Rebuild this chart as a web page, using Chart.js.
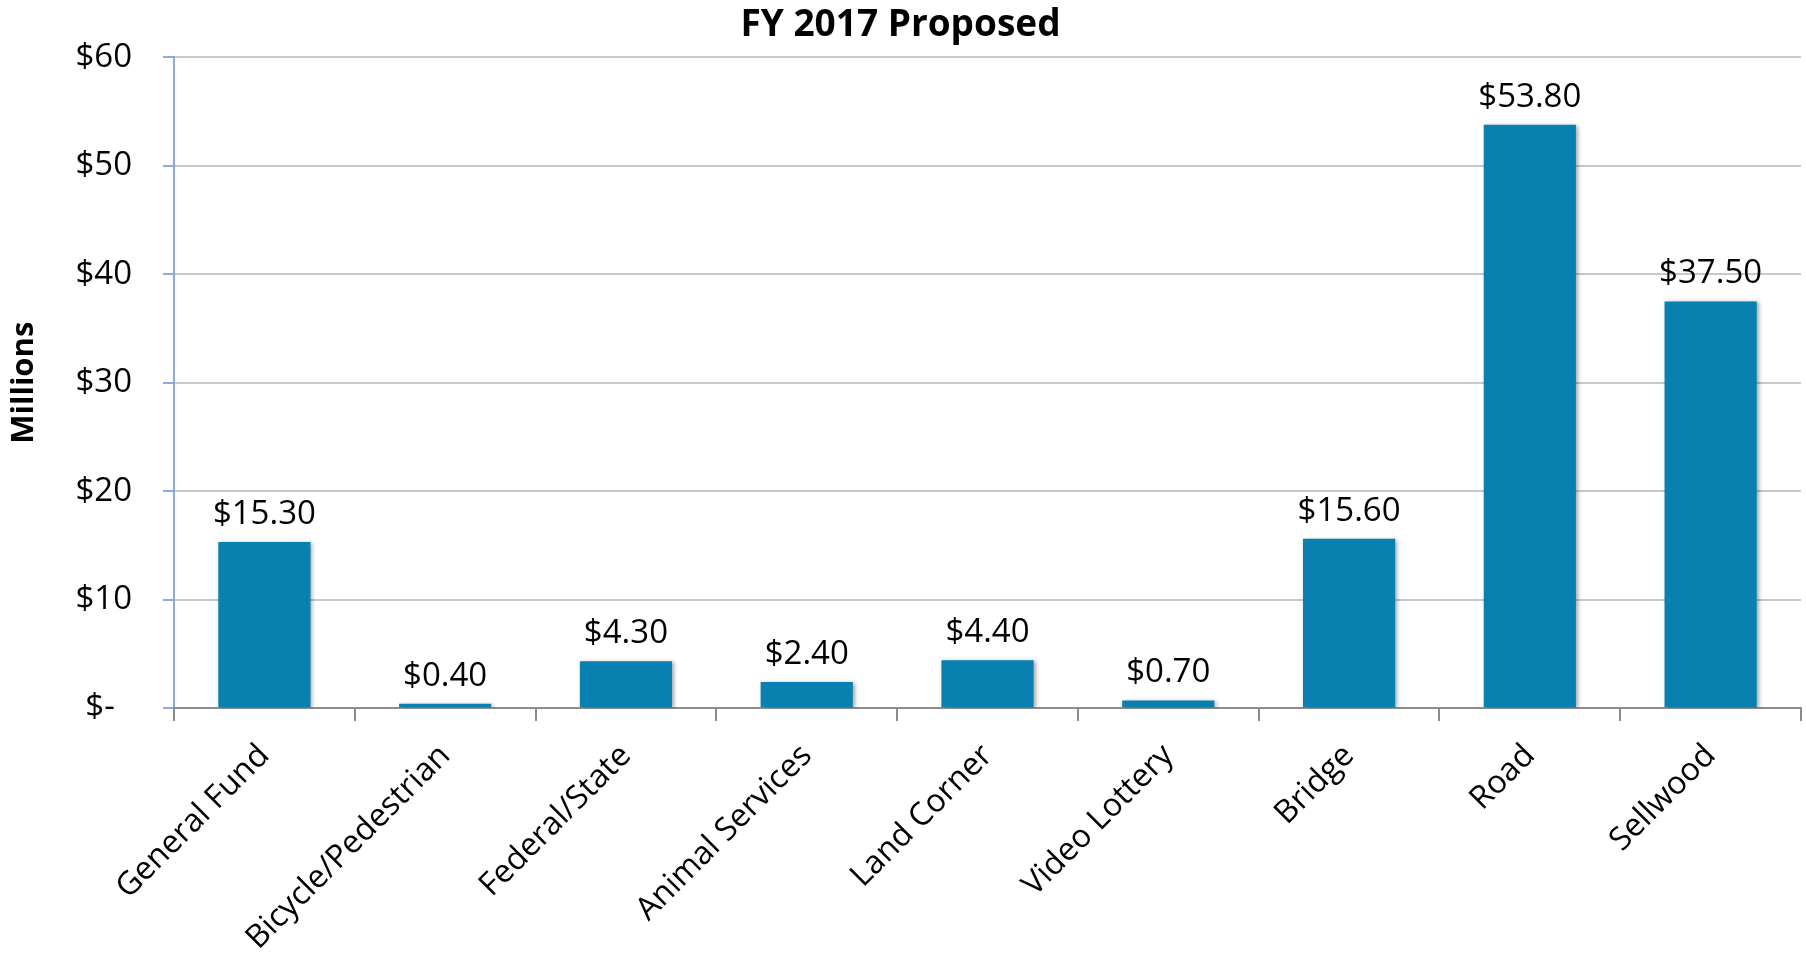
<!DOCTYPE html>
<html>
<head>
<meta charset="utf-8">
<script src="https://cdn.jsdelivr.net/npm/chart.js@4.4.0/dist/chart.umd.min.js"></script>
<style>
  html, body { margin: 0; padding: 0; background: #fff; }
  #wrap { width: 1806px; height: 953px; }
</style>
</head>
<body>
<div id="wrap"><canvas id="fundChart" width="1806" height="953"></canvas></div>
<script>
const categories = ['General Fund', 'Bicycle/Pedestrian', 'Federal/State', 'Animal Services',
    'Land Corner', 'Video Lottery', 'Bridge', 'Road', 'Sellwood'];
const proposed = [15.3, 0.4, 4.3, 2.4, 4.4, 0.7, 15.6, 53.8, 37.5];
const yTicks = [0, 10, 20, 30, 40, 50, 60];

const FONT = "'Open Sans', 'DejaVu Sans', sans-serif";

// soft shadow behind bars, like the original
const barShadow = {
    id: 'barShadow',
    beforeDatasetDraw(chart) {
        const ctx = chart.ctx;
        ctx.save();
        ctx.shadowColor = 'rgba(0, 0, 0, 0.35)';
        ctx.shadowBlur = 4;
        ctx.shadowOffsetX = 2;
        ctx.shadowOffsetY = 1;
    },
    afterDatasetDraw(chart) {
        chart.ctx.restore();
    }
};

// value labels above each bar
const valueLabels = {
    id: 'valueLabels',
    afterDatasetsDraw(chart) {
        const ctx = chart.ctx;
        const meta = chart.getDatasetMeta(0);
        ctx.save();
        ctx.font = '33px ' + FONT;
        ctx.fillStyle = '#000';
        ctx.textAlign = 'center';
        ctx.textBaseline = 'alphabetic';
        meta.data.forEach((bar, i) => {
            ctx.fillText('$' + proposed[i].toFixed(2), bar.x, bar.y - 18);
        });
        ctx.restore();
    }
};

new Chart(document.getElementById('fundChart'), {
    type: 'bar',
    data: {
        labels: categories,
        datasets: [{
            label: 'FY 2017 Proposed',
            data: proposed,
            backgroundColor: '#0880b0',
            borderWidth: 0,
            barPercentage: 0.51,
            categoryPercentage: 1.0
        }]
    },
    options: {
        responsive: false,
        animation: false,
        layout: {
            padding: { left: 0, right: 5, top: 0, bottom: 0 }
        },
        plugins: {
            legend: { display: false },
            tooltip: { enabled: false },
            title: {
                display: true,
                text: 'FY 2017 Proposed',
                color: '#000',
                font: { family: FONT, size: 37, weight: 'bold' },
                padding: { top: 3, bottom: 10 }
            }
        },
        scales: {
            y: {
                min: 0,
                max: 60,
                afterBuildTicks: function(scale) {
                    scale.ticks = yTicks.map(v => ({ value: v }));
                },
                afterFit: function(scale) {
                    scale.width = 174;
                },
                ticks: {
                    color: '#000',
                    padding: 31,
                    font: { family: FONT, size: 33 },
                    callback: function(value) {
                        return value === 0 ? '$-  ' : '$' + value;
                    }
                },
                grid: {
                    color: '#c8c8c8',
                    lineWidth: 2,
                    tickColor: '#8eaadb',
                    tickLength: 11
                },
                border: {
                    color: '#8eaadb',
                    width: 2
                },
                title: {
                    display: true,
                    text: 'Millions',
                    color: '#000',
                    font: { family: FONT, size: 31, weight: 'bold' },
                    padding: { top: 6, bottom: 0 }
                }
            },
            x: {
                afterFit: function(scale) {
                    scale.height = 245;
                },
                ticks: {
                    color: '#000',
                    maxRotation: 45,
                    minRotation: 45,
                    padding: 16,
                    font: { family: FONT, size: 32 }
                },
                grid: {
                    drawOnChartArea: false,
                    color: '#8c8c8c',
                    lineWidth: 2,
                    tickLength: 13
                },
                border: {
                    color: '#8c8c8c',
                    width: 2
                }
            }
        }
    },
    plugins: [barShadow, valueLabels]
});
</script>
</body>
</html>
